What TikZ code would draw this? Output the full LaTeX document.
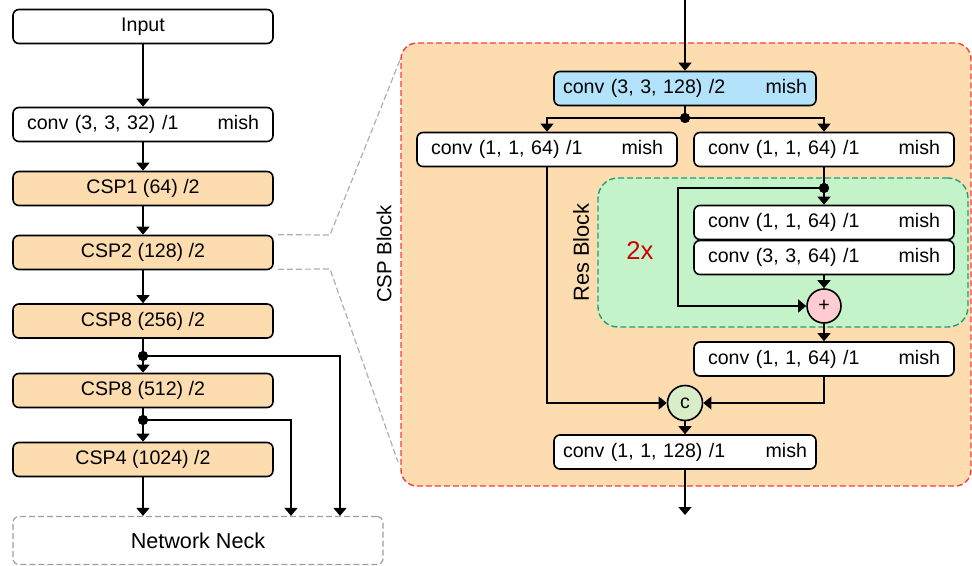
\documentclass[tikz,border=0pt]{standalone}
\usepackage{fontspec}
\setmainfont{Liberation Sans}
\usetikzlibrary{arrows.meta}
\definecolor{cspfill}{RGB}{253,221,176}
\definecolor{convblue}{RGB}{178,227,250}
\definecolor{resfill}{RGB}{196,243,202}
\definecolor{resline}{RGB}{30,160,115}
\definecolor{redline}{RGB}{250,60,60}
\definecolor{zoomgray}{RGB}{175,175,175}
\definecolor{addfill}{RGB}{255,204,210}
\definecolor{catfill}{RGB}{217,238,200}
\definecolor{label2x}{RGB}{204,0,0}
\begin{document}
\begin{tikzpicture}[x=0.5pt,y=-0.5pt,
  font=\fontsize{9.8}{11}\selectfont,
  box/.style={draw, line width=0.8pt, rounded corners=3pt, minimum height=17pt,
    inner sep=0pt, align=center},
  cbox/.style={box, text width=#1, align=left},
  arr/.style={-{Triangle[width=6.5pt,length=4pt]}, line width=0.75pt},
  wire/.style={line width=0.75pt},
  jdot/.style={circle, fill=black, inner sep=0pt, minimum size=5pt},
  opcircle/.style={circle, draw, line width=0.8pt, inner sep=0pt},
  zoomline/.style={draw=zoomgray, line width=0.6pt, dash pattern=on 3pt off 1.5pt}]

\useasboundingbox (0,0) rectangle (972,566);

% CSP block panel
\node[draw=redline, fill=cspfill, line width=0.7pt, dash pattern=on 3pt off 1.5pt,
  rounded corners=8pt, minimum width=285pt, minimum height=221.5pt, inner sep=0pt]
  (cspblk) at (686,264.5) {};
% residual block panel
\node[draw=resline, fill=resfill, line width=0.7pt, dash pattern=on 3pt off 1.5pt,
  rounded corners=10pt, minimum width=185pt, minimum height=74.5pt, inner sep=0pt]
  (resblk) at (783,252.5) {};

% backbone column
\node[box, fill=white, minimum width=130pt] (in) at (143,26.5) {Input};
\node[cbox=116pt, fill=white, inner xsep=7pt] (c0) at (143,124.5) {conv (3, 3, 32) /1\hfill mish};
\node[box, fill=cspfill, minimum width=130pt] (csp1) at (143,188.5) {CSP1 (64) /2};
\node[box, fill=cspfill, minimum width=130pt] (csp2) at (143,252.5) {CSP2 (128) /2};
\node[box, fill=cspfill, minimum width=130pt] (csp8a) at (143,321) {CSP8 (256) /2};
\node[box, fill=cspfill, minimum width=130pt] (csp8b) at (143,390.5) {CSP8 (512) /2};
\node[box, fill=cspfill, minimum width=130pt] (csp4) at (143,459.5) {CSP4 (1024) /2};
\node[box, draw=zoomgray!90!black, dash pattern=on 3pt off 1.5pt, line width=0.6pt,
  minimum width=185pt, minimum height=24pt, font=\fontsize{10.8}{12}\selectfont]
  (neck) at (198,540.5) {Network Neck};

% zoom guide lines from CSP2 to the block panel
\coordinate (zt) at (330,235);
\coordinate (zb) at (330,269);
\coordinate (zte) at (400,60);
\coordinate (zbe) at (398,462);
\draw[zoomline] ([xshift=2pt]csp2.north east) -- (zt) -- (zte);
\draw[zoomline] ([xshift=2pt,yshift=0.5pt]csp2.south east) -- (zb) -- (zbe);

% CSP block contents
\coordinate (top) at (685,0);
\node[cbox=122pt, fill=convblue, inner xsep=4.5pt] (b0) at (685,88.5) {conv (3, 3, 128) /2\hfill mish};
\node[cbox=116pt, fill=white, inner xsep=7pt] (L1) at (547,149.5) {conv (1, 1, 64) /1\hfill mish};
\node[cbox=116pt, fill=white, inner xsep=7pt] (R1) at (824,149.5) {conv (1, 1, 64) /1\hfill mish};
\node[cbox=116pt, fill=white, inner xsep=7pt] (R2) at (824,222.5) {conv (1, 1, 64) /1\hfill mish};
\node[cbox=116pt, fill=white, inner xsep=7pt] (R3) at (824,257.5) {conv (3, 3, 64) /1\hfill mish};
\node[opcircle, fill=addfill, minimum size=17pt] (plus) at (824,306) {+};
\node[cbox=116pt, fill=white, inner xsep=7pt] (R4) at (824,359) {conv (1, 1, 64) /1\hfill mish};
\node[opcircle, fill=catfill, minimum size=17.5pt] (cc) at (685,403) {c};
\node[cbox=122pt, fill=white, inner xsep=4.5pt] (fin) at (685,452) {conv (1, 1, 128) /1\hfill mish};
\coordinate (out) at (685,515);
\coordinate (lp) at (678,306);

% labels
\node[rotate=90, inner sep=0pt, font=\fontsize{10.2}{12}\selectfont] (lblcsp) at (384,254) {CSP Block};
\node[rotate=90, inner sep=0pt, font=\fontsize{10.9}{12}\selectfont] (lblres) at (581,252.5) {Res Block};
\node[text=label2x, font=\fontsize{12.8}{14}\selectfont, inner sep=0pt] (lbl2x) at (640,251) {2x};

% junction points
\node[jdot] (d1) at (143,356) {};
\node[jdot] (d2) at (143,420) {};
\node[jdot] (dt) at (685,118) {};
\node[jdot] (dg) at (824,188) {};
\coordinate (n1) at (340,0);
\coordinate (n2) at (291,0);

% backbone connectors
\draw[arr] (in) -- (c0);
\draw[arr] (c0) -- (csp1);
\draw[arr] (csp1) -- (csp2);
\draw[arr] (csp2) -- (csp8a);
\draw[arr] (csp8a) -- (csp8b);
\draw[arr] (csp8b) -- (csp4);
\draw[arr] (csp4.south) -- (csp4.south |- neck.north);
\draw[arr] (d1.center) -| (n1 |- neck.north);
\draw[arr] (d2.center) -| (n2 |- neck.north);

% CSP block connectors
\draw[arr] (top) -- (b0);
\draw[wire] (b0.south) -- (dt.center);
\draw[arr] (dt.center) -| (L1.north);
\draw[arr] (dt.center) -| (R1.north);
\draw[arr] (R1) -- (R2);
\draw[arr] (dg.center) -| (lp) -- (plus.west);
\draw[arr] (R3) -- (plus);
\draw[arr] (plus) -- (R4);
\draw[arr] (R4.south) |- (cc.east);
\draw[arr] (L1.south) |- (cc.west);
\draw[arr] (cc) -- (fin);
\draw[arr] (fin) -- (out);

% junction dots drawn again above the wires
\fill (d1) circle (2.5pt);
\fill (d2) circle (2.5pt);
\fill (dt) circle (2.5pt);
\fill (dg) circle (2.5pt);
\end{tikzpicture}
\end{document}
